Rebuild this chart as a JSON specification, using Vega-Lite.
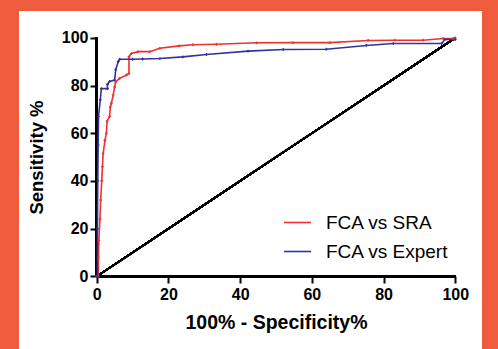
{
  "$schema": "https://vega.github.io/schema/vega-lite/v6.json",
  "width": 463,
  "height": 338,
  "autosize": {"type": "none"},
  "padding": {"left": 19, "top": 11, "right": 16, "bottom": 0},
  "background": "#EE5B3D",
  "config": {
    "view": {"fill": "white", "stroke": null},
    "font": "Liberation Sans",
    "axisX": {
      "orient": "bottom", "offset": -73,
      "domain": false, "grid": false, "ticks": true, "tickColor": "black", "tickWidth": 2, "tickSize": 7,
      "labelFont": "Liberation Sans", "labelFontWeight": "bold", "labelFontSize": 16, "labelColor": "black",
      "labelPadding": 3, "labelOverlap": false, "labelFlush": false, "labelBound": false,
      "titleFont": "Liberation Sans", "titleFontWeight": "bold", "titleFontSize": 19.5,
      "titleColor": "black", "titleX": 257, "titleY": 52, "titleBaseline": "alphabetic", "titleAlign": "center"
    },
    "axisY": {
      "orient": "left", "offset": -78,
      "domain": false, "grid": false, "ticks": true, "tickColor": "black", "tickWidth": 2, "tickSize": 7,
      "labelFont": "Liberation Sans", "labelFontWeight": "bold", "labelFontSize": 16, "labelColor": "black",
      "labelPadding": 2, "labelOverlap": false, "labelFlush": false, "labelBound": false,
      "titleFont": "Liberation Sans", "titleFontWeight": "bold", "titleFontSize": 18.5,
      "titleColor": "black", "titleX": -55, "titleY": 146, "titleAngle": -90, "titleBaseline": "alphabetic", "titleAlign": "center"
    }
  },
  "datasets": {
    "roc": [
      {"series": "FCA vs SRA", "i": 1, "x": 0, "y": 0},
      {"series": "FCA vs SRA", "i": 2, "x": 0.45, "y": 0},
      {"series": "FCA vs SRA", "i": 3, "x": 0.5, "y": 8},
      {"series": "FCA vs SRA", "i": 4, "x": 0.6, "y": 15},
      {"series": "FCA vs SRA", "i": 5, "x": 0.9, "y": 24},
      {"series": "FCA vs SRA", "i": 6, "x": 1.1, "y": 32},
      {"series": "FCA vs SRA", "i": 7, "x": 1.4, "y": 40},
      {"series": "FCA vs SRA", "i": 8, "x": 1.6, "y": 46},
      {"series": "FCA vs SRA", "i": 9, "x": 1.8, "y": 51.6},
      {"series": "FCA vs SRA", "i": 10, "x": 2.3, "y": 57},
      {"series": "FCA vs SRA", "i": 11, "x": 2.7, "y": 60},
      {"series": "FCA vs SRA", "i": 12, "x": 2.9, "y": 65},
      {"series": "FCA vs SRA", "i": 13, "x": 3.6, "y": 67},
      {"series": "FCA vs SRA", "i": 14, "x": 3.8, "y": 71},
      {"series": "FCA vs SRA", "i": 15, "x": 4.1, "y": 72.6},
      {"series": "FCA vs SRA", "i": 16, "x": 4.6, "y": 76},
      {"series": "FCA vs SRA", "i": 17, "x": 5.0, "y": 79.4},
      {"series": "FCA vs SRA", "i": 18, "x": 5.3, "y": 81.5},
      {"series": "FCA vs SRA", "i": 19, "x": 6.4, "y": 83},
      {"series": "FCA vs SRA", "i": 20, "x": 8.3, "y": 84.4},
      {"series": "FCA vs SRA", "i": 21, "x": 9.0, "y": 85},
      {"series": "FCA vs SRA", "i": 22, "x": 9.0, "y": 92},
      {"series": "FCA vs SRA", "i": 23, "x": 9.7, "y": 93.4},
      {"series": "FCA vs SRA", "i": 24, "x": 11.5, "y": 94.2},
      {"series": "FCA vs SRA", "i": 25, "x": 14.8, "y": 94.2},
      {"series": "FCA vs SRA", "i": 26, "x": 17.6, "y": 95.6},
      {"series": "FCA vs SRA", "i": 27, "x": 23, "y": 96.6},
      {"series": "FCA vs SRA", "i": 28, "x": 26.8, "y": 97.1},
      {"series": "FCA vs SRA", "i": 29, "x": 33.4, "y": 97.3},
      {"series": "FCA vs SRA", "i": 30, "x": 44.6, "y": 97.9},
      {"series": "FCA vs SRA", "i": 31, "x": 54.7, "y": 98},
      {"series": "FCA vs SRA", "i": 32, "x": 65, "y": 98},
      {"series": "FCA vs SRA", "i": 33, "x": 75.7, "y": 98.9},
      {"series": "FCA vs SRA", "i": 34, "x": 83.2, "y": 99},
      {"series": "FCA vs SRA", "i": 35, "x": 91, "y": 99},
      {"series": "FCA vs SRA", "i": 36, "x": 96.6, "y": 99.7},
      {"series": "FCA vs SRA", "i": 37, "x": 99.4, "y": 99.7},
      {"series": "FCA vs SRA", "i": 38, "x": 100, "y": 100},
      {"series": "FCA vs Expert", "i": 1, "x": 0, "y": 0},
      {"series": "FCA vs Expert", "i": 2, "x": 0.2, "y": 0},
      {"series": "FCA vs Expert", "i": 3, "x": 0.2, "y": 20},
      {"series": "FCA vs Expert", "i": 4, "x": 0.3, "y": 40},
      {"series": "FCA vs Expert", "i": 5, "x": 0.4, "y": 55},
      {"series": "FCA vs Expert", "i": 6, "x": 0.5, "y": 67},
      {"series": "FCA vs Expert", "i": 7, "x": 1.0, "y": 74},
      {"series": "FCA vs Expert", "i": 8, "x": 1.3, "y": 78.7},
      {"series": "FCA vs Expert", "i": 9, "x": 3.0, "y": 78.7},
      {"series": "FCA vs Expert", "i": 10, "x": 3.0, "y": 80.5},
      {"series": "FCA vs Expert", "i": 11, "x": 3.6, "y": 81.7},
      {"series": "FCA vs Expert", "i": 12, "x": 5.0, "y": 82.3},
      {"series": "FCA vs Expert", "i": 13, "x": 5.3, "y": 86.6},
      {"series": "FCA vs Expert", "i": 14, "x": 6.0, "y": 90},
      {"series": "FCA vs Expert", "i": 15, "x": 6.4, "y": 91},
      {"series": "FCA vs Expert", "i": 16, "x": 10, "y": 91},
      {"series": "FCA vs Expert", "i": 17, "x": 12.8, "y": 91.1},
      {"series": "FCA vs Expert", "i": 18, "x": 17.6, "y": 91.3},
      {"series": "FCA vs Expert", "i": 19, "x": 24, "y": 92},
      {"series": "FCA vs Expert", "i": 20, "x": 30.6, "y": 93},
      {"series": "FCA vs Expert", "i": 21, "x": 42.2, "y": 94.4},
      {"series": "FCA vs Expert", "i": 22, "x": 52, "y": 95.1},
      {"series": "FCA vs Expert", "i": 23, "x": 64, "y": 95.2},
      {"series": "FCA vs Expert", "i": 24, "x": 75.2, "y": 96.8},
      {"series": "FCA vs Expert", "i": 25, "x": 82.7, "y": 97.6},
      {"series": "FCA vs Expert", "i": 26, "x": 96.2, "y": 97.6},
      {"series": "FCA vs Expert", "i": 27, "x": 97.1, "y": 99.3},
      {"series": "FCA vs Expert", "i": 28, "x": 100, "y": 99.3}
    ]
  },
  "data": {"name": "roc"},
  "encoding": {
    "x": {
      "field": "x", "type": "quantitative",
      "scale": {"domain": [-21.67, 107.45], "nice": false, "zero": false},
      "axis": {"values": [0, 20, 40, 60, 80, 100], "title": "100% - Specificity%"}
    },
    "y": {
      "field": "y", "type": "quantitative",
      "scale": {"domain": [-30.48, 111.24], "nice": false, "zero": false},
      "axis": {"values": [0, 20, 40, 60, 80, 100], "title": "Sensitivity %"}
    }
  },
  "layer": [
    {
      "mark": {"type": "rule", "color": "black", "strokeWidth": 1.5},
      "encoding": {
        "x": {"datum": 0, "type": "quantitative", "scale": {"domain": [-21.67, 107.45], "nice": false, "zero": false}, "axis": {"values": [0, 20, 40, 60, 80, 100], "title": "100% - Specificity%"}},
        "x2": {"datum": 100},
        "y": {"datum": 0, "type": "quantitative", "scale": {"domain": [-30.48, 111.24], "nice": false, "zero": false}, "axis": {"values": [0, 20, 40, 60, 80, 100], "title": "Sensitivity %"}},
        "y2": {"datum": 100}
      }
    },
    {
      "mark": {"type": "rule", "color": "black", "strokeWidth": 2.5},
      "encoding": {
        "x": {"datum": 0, "type": "quantitative", "scale": {"domain": [-21.67, 107.45], "nice": false, "zero": false}, "axis": {"values": [0, 20, 40, 60, 80, 100], "title": "100% - Specificity%"}},
        "x2": {"datum": 100},
        "y": {"datum": 0, "type": "quantitative", "scale": {"domain": [-30.48, 111.24], "nice": false, "zero": false}, "axis": {"values": [0, 20, 40, 60, 80, 100], "title": "Sensitivity %"}}
      }
    },
    {
      "mark": {"type": "rule", "color": "black", "strokeWidth": 2.5},
      "encoding": {
        "x": {"datum": 0, "type": "quantitative", "scale": {"domain": [-21.67, 107.45], "nice": false, "zero": false}, "axis": {"values": [0, 20, 40, 60, 80, 100], "title": "100% - Specificity%"}},
        "y": {"datum": 0, "type": "quantitative", "scale": {"domain": [-30.48, 111.24], "nice": false, "zero": false}, "axis": {"values": [0, 20, 40, 60, 80, 100], "title": "Sensitivity %"}},
        "y2": {"datum": 100}
      }
    },
    {
      "mark": {"type": "line", "strokeWidth": 1.6},
      "encoding": {
        "order": {"field": "i", "type": "quantitative"},
        "color": {
          "field": "series", "type": "nominal",
          "scale": {"domain": ["FCA vs SRA", "FCA vs Expert"], "range": ["#EE3030", "#333399"]},
          "legend": {
            "title": null, "orient": "none", "legendX": 264, "legendY": 197, "padding": 0,
            "symbolType": "stroke", "symbolSize": 729, "symbolStrokeWidth": 1.6,
            "labelFont": "Liberation Sans", "labelFontSize": 19, "labelColor": "black",
            "labelOffset": 14, "rowPadding": 4
          }
        }
      }
    },
    {
      "mark": {"type": "point", "shape": "cross", "filled": true, "size": 8, "opacity": 1},
      "encoding": {
        "color": {"field": "series", "type": "nominal", "legend": null}
      }
    }
  ]
}
